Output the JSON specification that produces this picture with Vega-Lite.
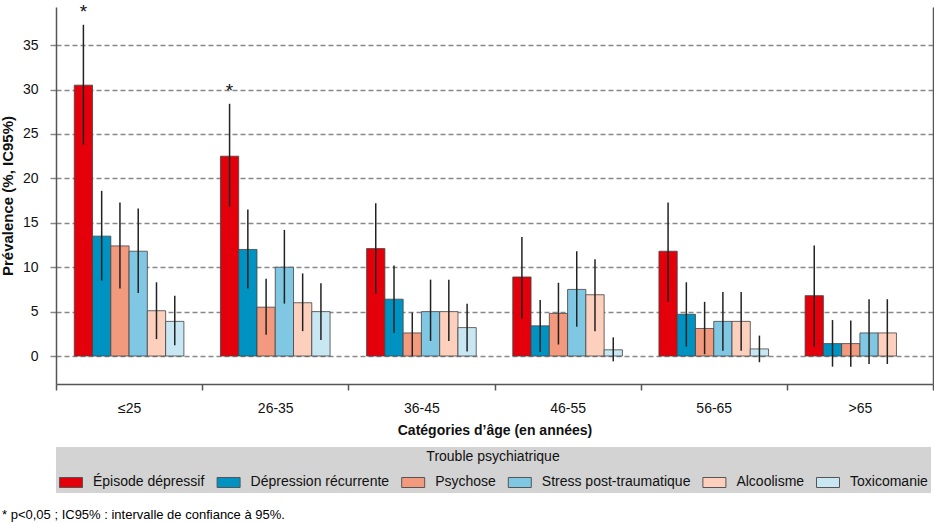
{
  "$schema": "https://vega.github.io/schema/vega-lite/v6.json",
  "width": 877,
  "height": 377,
  "autosize": {"type": "none"},
  "padding": {"left": 56, "top": 7, "right": 1, "bottom": 139},
  "background": "white",
  "config": {"font": "Liberation Sans", "view": {"stroke": null}},
  "title": {"text": "* p<0,05 ; IC95% : intervalle de confiance à 95%.", "orient": "bottom", "anchor": "start", "frame": "group", "dx": -54, "offset": 16, "fontSize": 13, "fontWeight": "normal", "color": "#000"},
  "data": {"values": [
    {"age": "≤25", "trouble": "Épisode dépressif", "value": 30.5, "lo": 23.8, "hi": 37.3, "star": "*"},
    {"age": "≤25", "trouble": "Dépression récurrente", "value": 13.5, "lo": 8.5, "hi": 18.6, "star": ""},
    {"age": "≤25", "trouble": "Psychose", "value": 12.4, "lo": 7.6, "hi": 17.3, "star": ""},
    {"age": "≤25", "trouble": "Stress post-traumatique", "value": 11.8, "lo": 7.1, "hi": 16.6, "star": ""},
    {"age": "≤25", "trouble": "Alcoolisme", "value": 5.1, "lo": 1.9, "hi": 8.3, "star": ""},
    {"age": "≤25", "trouble": "Toxicomanie", "value": 3.9, "lo": 1.2, "hi": 6.8, "star": ""},
    {"age": "26-35", "trouble": "Épisode dépressif", "value": 22.5, "lo": 16.8, "hi": 28.4, "star": "*"},
    {"age": "26-35", "trouble": "Dépression récurrente", "value": 12.0, "lo": 7.6, "hi": 16.5, "star": ""},
    {"age": "26-35", "trouble": "Psychose", "value": 5.5, "lo": 2.4, "hi": 8.7, "star": ""},
    {"age": "26-35", "trouble": "Stress post-traumatique", "value": 10.0, "lo": 5.9, "hi": 14.2, "star": ""},
    {"age": "26-35", "trouble": "Alcoolisme", "value": 6.0, "lo": 2.8, "hi": 9.3, "star": ""},
    {"age": "26-35", "trouble": "Toxicomanie", "value": 5.0, "lo": 1.8, "hi": 8.2, "star": ""},
    {"age": "36-45", "trouble": "Épisode dépressif", "value": 12.1, "lo": 7.0, "hi": 17.2, "star": ""},
    {"age": "36-45", "trouble": "Dépression récurrente", "value": 6.4, "lo": 2.6, "hi": 10.2, "star": ""},
    {"age": "36-45", "trouble": "Psychose", "value": 2.6, "lo": 0.0, "hi": 4.9, "star": ""},
    {"age": "36-45", "trouble": "Stress post-traumatique", "value": 5.0, "lo": 1.7, "hi": 8.6, "star": ""},
    {"age": "36-45", "trouble": "Alcoolisme", "value": 5.0, "lo": 1.7, "hi": 8.6, "star": ""},
    {"age": "36-45", "trouble": "Toxicomanie", "value": 3.2, "lo": 0.5, "hi": 5.9, "star": ""},
    {"age": "46-55", "trouble": "Épisode dépressif", "value": 8.9, "lo": 4.2, "hi": 13.4, "star": ""},
    {"age": "46-55", "trouble": "Dépression récurrente", "value": 3.4, "lo": 0.45, "hi": 6.3, "star": ""},
    {"age": "46-55", "trouble": "Psychose", "value": 4.8, "lo": 1.3, "hi": 8.25, "star": ""},
    {"age": "46-55", "trouble": "Stress post-traumatique", "value": 7.5, "lo": 3.3, "hi": 11.8, "star": ""},
    {"age": "46-55", "trouble": "Alcoolisme", "value": 6.9, "lo": 2.8, "hi": 10.9, "star": ""},
    {"age": "46-55", "trouble": "Toxicomanie", "value": 0.7, "lo": -0.6, "hi": 2.1, "star": ""},
    {"age": "56-65", "trouble": "Épisode dépressif", "value": 11.8, "lo": 6.1, "hi": 17.3, "star": ""},
    {"age": "56-65", "trouble": "Dépression récurrente", "value": 4.7, "lo": 1.05, "hi": 8.3, "star": ""},
    {"age": "56-65", "trouble": "Psychose", "value": 3.1, "lo": 0.2, "hi": 6.1, "star": ""},
    {"age": "56-65", "trouble": "Stress post-traumatique", "value": 3.9, "lo": 0.6, "hi": 7.2, "star": ""},
    {"age": "56-65", "trouble": "Alcoolisme", "value": 3.9, "lo": 0.6, "hi": 7.2, "star": ""},
    {"age": "56-65", "trouble": "Toxicomanie", "value": 0.8, "lo": -0.7, "hi": 2.3, "star": ""},
    {"age": ">65", "trouble": "Épisode dépressif", "value": 6.8, "lo": 1.05, "hi": 12.45, "star": ""},
    {"age": ">65", "trouble": "Dépression récurrente", "value": 1.4, "lo": -1.2, "hi": 4.05, "star": ""},
    {"age": ">65", "trouble": "Psychose", "value": 1.4, "lo": -1.2, "hi": 4.0, "star": ""},
    {"age": ">65", "trouble": "Stress post-traumatique", "value": 2.6, "lo": -0.9, "hi": 6.4, "star": ""},
    {"age": ">65", "trouble": "Alcoolisme", "value": 2.6, "lo": -0.9, "hi": 6.4, "star": ""}
  ]},
  "layer": [
    {
      "mark": {"type": "bar", "stroke": "#444", "strokeWidth": 1, "strokeOpacity": 0.8},
      "encoding": {
        "x": {"field": "age", "type": "nominal", "sort": ["≤25", "26-35", "36-45", "46-55", "56-65", ">65"],
          "scale": {"paddingInner": 0, "paddingOuter": 0},
          "axis": {"title": "Catégories d’âge (en années)", "labelAngle": 0, "tickBand": "extent", "tickSize": 6, "domainColor": "#555", "tickColor": "#555", "domainWidth": 1.5, "tickWidth": 1.5, "labelFontSize": 14, "labelPadding": 11, "labelColor": "#111", "titleFontSize": 14, "titleFontWeight": "bold", "titlePadding": 8, "titleColor": "#111"}},
        "xOffset": {"field": "trouble", "type": "nominal",
          "scale": {"domain": ["Épisode dépressif", "Dépression récurrente", "Psychose", "Stress post-traumatique", "Alcoolisme", "Toxicomanie"], "paddingOuter": 1, "paddingInner": 0}},
        "y": {"field": "value", "type": "quantitative",
          "scale": {"domain": [-3.15, 39.3], "nice": false},
          "axis": {"title": "Prévalence (%, IC95%)", "values": [0, 5, 10, 15, 20, 25, 30, 35], "grid": true, "gridDash": [5, 3], "gridColor": "#888", "gridWidth": 1.5, "tickSize": 6, "tickColor": "#888", "tickWidth": 1.5, "domainColor": "#555", "domainWidth": 1.5, "labelFontSize": 14, "labelPadding": 12, "labelColor": "#111", "titleFontSize": 15, "titleFontWeight": "bold", "titlePadding": 7, "titleColor": "#111"}},
        "color": {"field": "trouble", "type": "nominal",
          "scale": {"domain": ["Épisode dépressif", "Dépression récurrente", "Psychose", "Stress post-traumatique", "Alcoolisme", "Toxicomanie"], "range": ["#e3000b", "#0093c1", "#f39a7e", "#7fc7e2", "#fdd0be", "#c8e7f2"]},
          "legend": {"orient": "none", "legendX": 0, "legendY": 440, "direction": "horizontal", "fillColor": "#d3d3d3", "padding": 3, "title": "Trouble psychiatrique", "titleAnchor": "middle", "titleFontSize": 14, "titleFontWeight": "normal", "titleColor": "#111", "titlePadding": 6, "symbolType": "M-1,-0.435L1,-0.435L1,0.435L-1,0.435Z", "symbolSize": 529, "symbolStrokeColor": "#555", "symbolStrokeWidth": 1, "symbolOpacity": 1, "labelFontSize": 14, "labelColor": "#111", "labelOffset": 10, "columnPadding": 9.6}}
      }
    },
    {
      "mark": {"type": "rule", "color": "#222", "strokeWidth": 1.5},
      "encoding": {
        "x": {"field": "age", "type": "nominal", "sort": ["≤25", "26-35", "36-45", "46-55", "56-65", ">65"]},
        "xOffset": {"field": "trouble", "type": "nominal",
          "scale": {"domain": ["Épisode dépressif", "Dépression récurrente", "Psychose", "Stress post-traumatique", "Alcoolisme", "Toxicomanie"]}},
        "y": {"field": "lo", "type": "quantitative", "scale": {"domain": [-3.15, 39.3], "nice": false},
          "axis": {"orient": "right", "title": null, "labels": false, "ticks": false, "grid": false, "domainColor": "#555", "domainWidth": 1.5}},
        "y2": {"field": "hi"}
      }
    },
    {
      "mark": {"type": "text", "fontSize": 19, "baseline": "alphabetic", "dy": -7, "color": "#111"},
      "encoding": {
        "x": {"field": "age", "type": "nominal", "sort": ["≤25", "26-35", "36-45", "46-55", "56-65", ">65"]},
        "xOffset": {"field": "trouble", "type": "nominal",
          "scale": {"domain": ["Épisode dépressif", "Dépression récurrente", "Psychose", "Stress post-traumatique", "Alcoolisme", "Toxicomanie"]}},
        "y": {"field": "hi", "type": "quantitative", "scale": {"domain": [-3.15, 39.3], "nice": false}, "axis": null},
        "text": {"field": "star"}
      }
    }
  ],
  "resolve": {"axis": {"y": "independent"}}
}
